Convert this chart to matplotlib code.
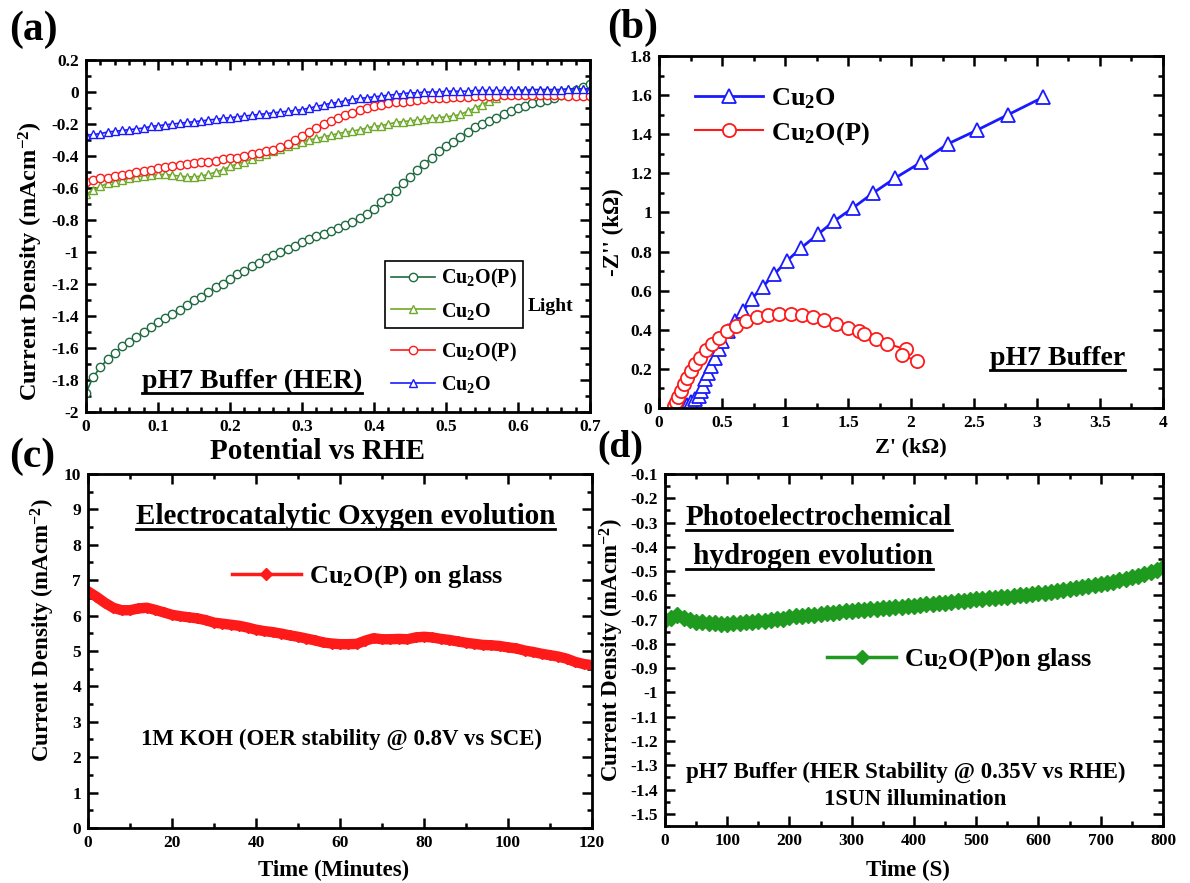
import matplotlib
matplotlib.use("Agg")
import matplotlib.pyplot as plt
import numpy as np
from matplotlib.ticker import MultipleLocator, FuncFormatter
from matplotlib.lines import Line2D

plt.rcParams['font.family'] = ['Liberation Serif', 'DejaVu Serif']
plt.rcParams['font.weight'] = 'bold'
plt.rcParams['axes.labelweight'] = 'bold'
plt.rcParams['mathtext.fontset'] = 'custom'
plt.rcParams['mathtext.rm'] = 'Liberation Serif:bold'
plt.rcParams['mathtext.bf'] = 'Liberation Serif:bold'
plt.rcParams['mathtext.it'] = 'Liberation Serif:bold:italic'
plt.rcParams['axes.unicode_minus'] = False

# ---- (a) LSV, pH7 buffer ----
pot = [round(0.01 * i, 2) for i in range(71)]
cup_light = [-1.88, -1.78, -1.72, -1.67, -1.63, -1.59, -1.56, -1.53, -1.50, -1.47,
             -1.44, -1.41, -1.39, -1.36, -1.33, -1.30, -1.28, -1.25, -1.22, -1.20,
             -1.17, -1.14, -1.12, -1.09, -1.07, -1.04, -1.02, -1.00, -0.98, -0.96,
             -0.94, -0.92, -0.90, -0.89, -0.87, -0.85, -0.83, -0.81, -0.79, -0.76,
             -0.73, -0.69, -0.66, -0.62, -0.57, -0.53, -0.49, -0.45, -0.41, -0.37,
             -0.34, -0.31, -0.28, -0.25, -0.22, -0.20, -0.18, -0.16, -0.14, -0.12,
             -0.10, -0.09, -0.07, -0.06, -0.05, -0.035, -0.02, -0.01, 0.01, 0.03, 0.05]
cu_light = [-0.64, -0.61, -0.59, -0.57, -0.56, -0.55, -0.54, -0.53, -0.525, -0.52,
            -0.515, -0.515, -0.52, -0.525, -0.53, -0.53, -0.525, -0.515, -0.50, -0.485,
            -0.465, -0.45, -0.435, -0.42, -0.40, -0.385, -0.37, -0.355, -0.34, -0.325,
            -0.31, -0.30, -0.29, -0.28, -0.27, -0.26, -0.25, -0.245, -0.235, -0.225,
            -0.215, -0.21, -0.20, -0.19, -0.185, -0.18, -0.175, -0.17, -0.165, -0.16,
            -0.155, -0.15, -0.14, -0.12, -0.10, -0.08, -0.055, -0.035, -0.015, 0.0,
            0.01, 0.015, 0.015, 0.015, 0.015, 0.015, 0.015, 0.02, 0.02, 0.02, 0.02]
cup_dark = [-0.56, -0.55, -0.54, -0.535, -0.525, -0.52, -0.51, -0.50, -0.495, -0.485,
            -0.475, -0.47, -0.46, -0.455, -0.45, -0.445, -0.44, -0.435, -0.43, -0.42,
            -0.415, -0.41, -0.40, -0.39, -0.38, -0.37, -0.36, -0.345, -0.325, -0.30,
            -0.275, -0.25, -0.225, -0.20, -0.18, -0.16, -0.145, -0.13, -0.115, -0.10,
            -0.09, -0.08, -0.07, -0.065, -0.06, -0.055, -0.05, -0.045, -0.04, -0.035,
            -0.035, -0.03, -0.03, -0.03, -0.025, -0.025, -0.025, -0.025, -0.02, -0.02,
            -0.02, -0.02, -0.02, -0.02, -0.02, -0.02, -0.02, -0.025, -0.025, -0.025, -0.025]
cu_dark = [-0.27, -0.265, -0.26, -0.25, -0.245, -0.24, -0.235, -0.23, -0.225, -0.215,
           -0.21, -0.205, -0.20, -0.195, -0.19, -0.185, -0.18, -0.175, -0.17, -0.165,
           -0.16, -0.155, -0.15, -0.145, -0.14, -0.135, -0.13, -0.125, -0.12, -0.115,
           -0.11, -0.10, -0.09, -0.08, -0.07, -0.065, -0.055, -0.045, -0.04, -0.035,
           -0.03, -0.025, -0.02, -0.015, -0.01, -0.005, -0.005, 0.0, 0.0, 0.0,
           0.005, 0.005, 0.005, 0.005, 0.01, 0.01, 0.01, 0.01, 0.01, 0.01,
           0.01, 0.01, 0.015, 0.015, 0.015, 0.015, 0.015, 0.02, 0.02, 0.02, 0.02]

# ---- (b) Nyquist ----
zre_cu = [0.194, 0.224, 0.254, 0.285, 0.315, 0.33, 0.348, 0.366, 0.39, 0.415, 0.445,
          0.475, 0.50, 0.548, 0.60, 0.669, 0.738, 0.823, 0.914, 1.014, 1.13, 1.26,
          1.39, 1.54, 1.70, 1.876, 2.08, 2.29, 2.52, 2.77, 3.05]
zim_cu = [0.003, 0.015, 0.029, 0.046, 0.063, 0.088, 0.114, 0.148, 0.18, 0.216, 0.258,
          0.304, 0.344, 0.395, 0.446, 0.497, 0.56, 0.62, 0.684, 0.752, 0.82, 0.888,
          0.956, 1.024, 1.10, 1.177, 1.257, 1.35, 1.42, 1.50, 1.59]
zre_cup = [0.118, 0.136, 0.154, 0.178, 0.20, 0.224, 0.254, 0.284, 0.324, 0.369, 0.42,
           0.475, 0.542, 0.614, 0.687, 0.775, 0.865, 0.956, 1.047, 1.138, 1.222, 1.313,
           1.404, 1.50, 1.59, 1.625, 1.72, 1.81, 1.958, 1.927, 2.048]
zim_cup = [0.008, 0.029, 0.054, 0.088, 0.122, 0.156, 0.19, 0.224, 0.258, 0.296, 0.327,
           0.36, 0.395, 0.42, 0.446, 0.466, 0.476, 0.483, 0.483, 0.478, 0.468, 0.45,
           0.432, 0.41, 0.395, 0.378, 0.355, 0.33, 0.30, 0.27, 0.241]

# ---- (c) OER stability ----
t_min = list(range(0, 121, 2))
j_oer = [6.68, 6.53, 6.36, 6.22, 6.15, 6.15, 6.20, 6.22, 6.16, 6.09,
         6.02, 5.98, 5.95, 5.92, 5.87, 5.80, 5.77, 5.74, 5.71, 5.66,
         5.60, 5.56, 5.53, 5.49, 5.44, 5.40, 5.35, 5.30, 5.24, 5.21,
         5.19, 5.19, 5.20, 5.29, 5.36, 5.33, 5.33, 5.34, 5.33, 5.38,
         5.40, 5.38, 5.34, 5.31, 5.27, 5.23, 5.20, 5.17, 5.16, 5.14,
         5.10, 5.07, 5.01, 4.97, 4.92, 4.88, 4.84, 4.78, 4.69, 4.63, 4.60]

# ---- (d) HER stability ----
t_s = list(range(0, 801, 10))
j_her = [-0.700, -0.695, -0.680, -0.695, -0.703, -0.708, -0.711, -0.713, -0.715, -0.716,
         -0.716, -0.715, -0.713, -0.711, -0.709, -0.707, -0.705, -0.702, -0.699, -0.696,
         -0.690, -0.687, -0.684, -0.682, -0.679, -0.676, -0.673, -0.671, -0.668, -0.666,
         -0.663, -0.661, -0.659, -0.657, -0.655, -0.653, -0.651, -0.649, -0.646, -0.644,
         -0.642, -0.640, -0.637, -0.635, -0.632, -0.630, -0.627, -0.625, -0.622, -0.620,
         -0.617, -0.615, -0.612, -0.610, -0.607, -0.605, -0.602, -0.600, -0.597, -0.595,
         -0.592, -0.589, -0.586, -0.582, -0.579, -0.575, -0.571, -0.567, -0.563, -0.558,
         -0.553, -0.548, -0.543, -0.537, -0.531, -0.525, -0.519, -0.512, -0.505, -0.495, -0.485]

DKGREEN = '#1f6b3f'
LTGREEN = '#6fa82a'
RED = '#ff1a1a'
BLUE = '#1a1aff'
GREEN = '#1e9a1e'

fmt = FuncFormatter(lambda v, p: f'{round(v, 6) + 0:g}')


def style(ax, xmaj, xmin, ymaj, ymin):
    ax.xaxis.set_major_locator(MultipleLocator(xmaj))
    ax.xaxis.set_minor_locator(MultipleLocator(xmin))
    ax.yaxis.set_major_locator(MultipleLocator(ymaj))
    ax.yaxis.set_minor_locator(MultipleLocator(ymin))
    ax.xaxis.set_major_formatter(fmt)
    ax.yaxis.set_major_formatter(fmt)
    ax.tick_params(which='both', direction='in', top=True, right=True,
                   labelsize=12.5, width=1.8, pad=5)
    ax.tick_params(which='major', length=7)
    ax.tick_params(which='minor', length=3.5)
    for s in ax.spines.values():
        s.set_linewidth(2)


fig = plt.figure(figsize=(11.9, 8.83), dpi=100)
axa = fig.add_axes([0.0723, 0.5334, 0.4235, 0.3986])
axb = fig.add_axes([0.5538, 0.5379, 0.4235, 0.3986])
axc = fig.add_axes([0.0740, 0.0623, 0.4235, 0.4010])
axd = fig.add_axes([0.5588, 0.0646, 0.4185, 0.3986])

cu2op = r'Cu$_2$O(P)'
cu2o = r'Cu$_2$O'
ylab_j = r'Current Density (mAcm$^{-2}$)'

# (a)
mk = dict(markersize=6, markerfacecolor='white', markeredgewidth=1.0, lw=1.2)
h1, = axa.plot(pot, cup_light, '-o', color=DKGREEN, markeredgecolor=DKGREEN, **mk)
h2, = axa.plot(pot, cu_light, '-^', color=LTGREEN, markeredgecolor=LTGREEN, **mk)
h3, = axa.plot(pot, cup_dark, '-o', color=RED, markeredgecolor=RED, **mk)
h4, = axa.plot(pot, cu_dark, '-^', color=BLUE, markeredgecolor=BLUE, **mk)
axa.set_xlim(0, 0.7)
axa.set_ylim(-2, 0.2)
style(axa, 0.1, 0.02, 0.2, 0.1)
axa.set_xlabel('Potential vs RHE', fontsize=21)
axa.xaxis.set_label_coords(0.46, -0.075)
axa.set_ylabel(ylab_j, fontsize=17.5)
axa.yaxis.set_label_coords(-0.081, 0.43)
lkw = dict(borderaxespad=0, fontsize=14.5, handlelength=2.2, handletextpad=0.3,
           labelspacing=0.5, borderpad=0.3)
lg1 = axa.legend([h1, h2], [cu2op, cu2o], loc='upper left', bbox_to_anchor=(0.593, 0.428),
                 fancybox=False, edgecolor='black', framealpha=1, **lkw)
lg1.get_frame().set_linewidth(1.2)
axa.add_artist(lg1)
axa.legend([h3, h4], [cu2op, cu2o], loc='upper left', bbox_to_anchor=(0.593, 0.22),
           frameon=False, **lkw)
axa.text(0.877, 0.30, 'Light', transform=axa.transAxes, fontsize=14, ha='left', va='center')
ta = axa.text(0.111, 0.088, 'pH7 Buffer (HER)', transform=axa.transAxes, fontsize=20,
              ha='left', va='center')

# (b)
hb1, = axb.plot(zre_cu, zim_cu, '-^', color=BLUE, markeredgecolor=BLUE, markerfacecolor='white',
                markersize=10, markeredgewidth=1.3, lw=2)
hb2, = axb.plot(zre_cup, zim_cup, '-o', color=RED, markeredgecolor=RED, markerfacecolor='white',
                markersize=9.5, markeredgewidth=1.3, lw=1.5)
axb.set_xlim(0, 4)
axb.set_ylim(0, 1.8)
style(axb, 0.5, 0.25, 0.2, 0.1)
axb.set_xlabel("Z' (k\u03a9)", fontsize=16)
axb.xaxis.set_label_coords(0.5, -0.083)
axb.set_ylabel("-Z'' (k\u03a9)", fontsize=16.5)
axb.yaxis.set_label_coords(-0.069, 0.5)
axb.legend([hb1, hb2], [cu2o, cu2op], loc='upper left', bbox_to_anchor=(0.05, 0.945),
           borderaxespad=0, fontsize=19, handlelength=2.6, handletextpad=0.3,
           labelspacing=0.35, frameon=False)
tb = axb.text(0.657, 0.142, 'pH7 Buffer', transform=axb.transAxes, fontsize=20,
              ha='left', va='center')

# (c)
hc, = axc.plot(t_min, j_oer, '-D', color=RED, markersize=5, lw=7.5)
axc.set_xlim(0, 120)
axc.set_ylim(0, 10)
style(axc, 20, 10, 1, 0.5)
axc.set_xlabel('Time (Minutes)', fontsize=16.5)
axc.xaxis.set_label_coords(0.488, -0.09)
axc.set_ylabel(ylab_j, fontsize=16.5)
axc.yaxis.set_label_coords(-0.062, 0.56)
lc_h = Line2D([], [], color=RED, marker='D', markersize=6, lw=2.5)
axc.legend([lc_h], [r'Cu$_2$O(P) on glass'], loc='center left', bbox_to_anchor=(0.265, 0.709),
           borderaxespad=0, fontsize=19, handlelength=2.6, handletextpad=0.3, frameon=False)
tc = axc.text(0.095, 0.879, 'Electrocatalytic Oxygen evolution', transform=axc.transAxes,
              fontsize=21, ha='left', va='center')
axc.text(0.502, 0.249, '1M KOH (OER stability @ 0.8V vs SCE)', transform=axc.transAxes,
         fontsize=16.5, ha='center', va='center')

# (d)
hd, = axd.plot(t_s, j_her, '-D', color=GREEN, markersize=8, lw=2)
axd.set_xlim(0, 800)
axd.set_ylim(-1.55, -0.1)
style(axd, 100, 50, 0.1, 0.05)
axd.set_xlabel('Time (S)', fontsize=16.5)
axd.xaxis.set_label_coords(0.488, -0.095)
axd.set_ylabel(ylab_j, fontsize=16.5)
axd.yaxis.set_label_coords(-0.078, 0.5)
ld_h = Line2D([], [], color=GREEN, marker='D', markersize=7, lw=2.5)
axd.legend([ld_h], [r'Cu$_2$O(P)on glass'], loc='center left', bbox_to_anchor=(0.305, 0.472),
           borderaxespad=0, fontsize=19, handlelength=2.6, handletextpad=0.3, frameon=False)
td1 = axd.text(0.042, 0.875, 'Photoelectrochemical', transform=axd.transAxes,
               fontsize=21, ha='left', va='center')
td2 = axd.text(0.042, 0.767, ' hydrogen evolution', transform=axd.transAxes,
               fontsize=21, ha='left', va='center')
axd.text(0.484, 0.153, 'pH7 Buffer (HER Stability @ 0.35V vs RHE)', transform=axd.transAxes,
         fontsize=16.5, ha='center', va='center')
axd.text(0.502, 0.074, '1SUN illumination', transform=axd.transAxes,
         fontsize=16.5, ha='center', va='center')

# panel letters
fig.text(0.008, 0.988, '(a)', fontsize=30, va='top', ha='left')
fig.text(0.510, 0.990, '(b)', fontsize=30, va='top', ha='left')
fig.text(0.008, 0.505, '(c)', fontsize=30, va='top', ha='left')
fig.text(0.502, 0.513, '(d)', fontsize=27, va='top', ha='left')

# underline the notes
fig.canvas.draw()
rend = fig.canvas.get_renderer()
inv = fig.transFigure.inverted()
for t in [ta, tb, tc, td1, td2]:
    bb = t.get_window_extent(rend)
    x0, y0 = inv.transform((bb.x0, bb.y0 + 1))
    x1, _ = inv.transform((bb.x1, bb.y0 + 1))
    fig.add_artist(Line2D([x0, x1], [y0, y0], transform=fig.transFigure, color='black', lw=2))

fig.savefig('out.png', dpi=100)
